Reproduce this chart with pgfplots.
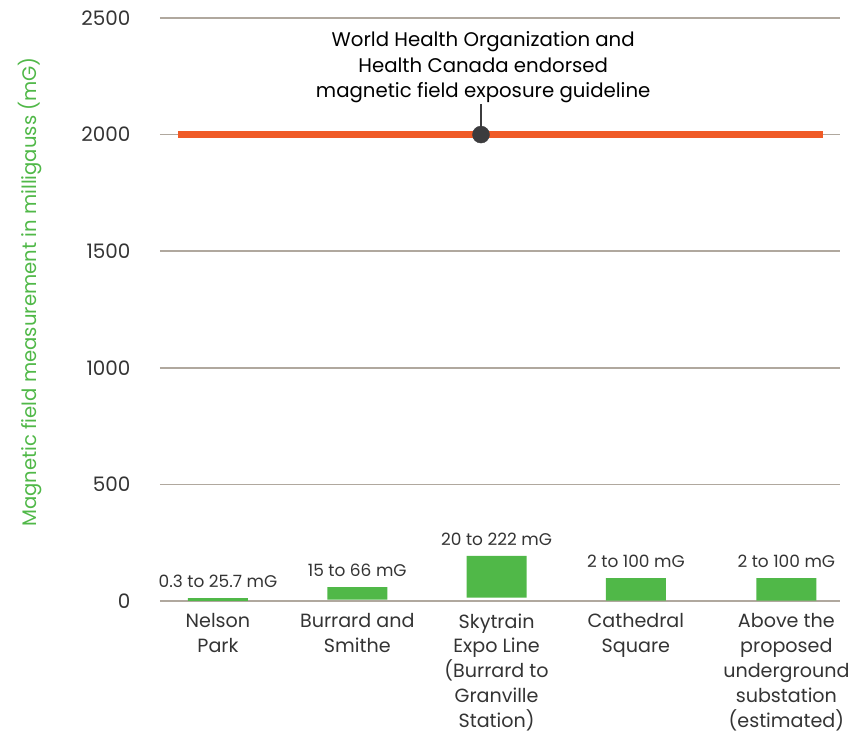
\documentclass[border=0pt]{standalone}
\usepackage{fontspec}
\setmainfont{Poppins}
\usepackage{pgfplots}
\usepackage{pgfplotstable}
\pgfplotsset{compat=1.18}
\definecolor{barGreen}{RGB}{80,184,72}
\definecolor{guideOrange}{RGB}{240,90,38}
\definecolor{gridGray}{RGB}{176,168,158}
\definecolor{txtGray}{RGB}{52,52,52}
\definecolor{dotGray}{RGB}{60,60,62}

\pgfplotstableread[col sep=comma]{
x,low,diff,top,label
0,1,11,12,0.3 to 25.7 mG
1,6,54,60,15 to 66 mG
2,14,180,194,20 to 222 mG
3,2,96,98,2 to 100 mG
4.08,2,96,98,2 to 100 mG
}\bars

\pgfplotsset{
  base/.style={
    scale only axis,
    width=680bp, height=583bp,
    at={(0,0)}, anchor=south west,
    xmin=-0.416, xmax=4.465,
    ymin=0, ymax=2500,
    axis line style={draw=none},
    major tick length=0pt,
    clip=false,
  }
}

\begin{document}
\begin{tikzpicture}
\begin{axis}[base,
  ybar stacked,
  bar width=60bp,
  ytick={0,500,1000,1500,2000,2500},
  ymajorgrids,
  grid style={draw=gridGray, line width=1.5bp},
  xtick={0,1,2,3,4.08},
  xticklabels={{Nelson\\Park},{Burrard and\\Smithe},{Skytrain\\Expo Line\\(Burrard to\\Granville\\Station)},{Cathedral\\Square},{Above the\\proposed\\underground\\substation\\(estimated)}},
  xticklabel style={align=center, font=\fontsize{19.2}{25}\selectfont, text=txtGray, anchor=north, yshift=-9bp},
  yticklabel style={font=\fontsize{20}{22}\selectfont, text=txtGray, xshift=-26bp},
  /pgf/number format/assume math mode=true,
  /pgf/number format/1000 sep={},
  ylabel={Magnetic field measurement in milligauss (mG)},
  ylabel style={at={(axis description cs:-0.191,0.53)}, anchor=center, font=\fontsize{19.7}{22}\selectfont, text=barGreen},
]
\addplot[draw=none, fill=none] table[x=x, y=low] {\bars};
\addplot[draw=none, fill=barGreen] table[x=x, y=diff] {\bars};
\end{axis}
\begin{axis}[base, hide axis]
\addplot[only marks, mark=none, nodes near coords, point meta=explicit symbolic,
  nodes near coords style={font=\fontsize{17}{20}\selectfont, text=txtGray, anchor=south, yshift=7bp}]
  table[x=x, y=top, meta=label] {\bars};
\addplot[guideOrange, line width=7.5bp, line cap=butt] coordinates {(-0.287,2000) (4.340,2000)};
\addplot[dotGray, line width=1.2bp] coordinates {(1.888,2000) (1.888,2131)};
\addplot[only marks, mark=*, mark size=8.5bp, dotGray, mark options={fill=dotGray, draw=dotGray}] coordinates {(1.888,2000)};
\node[align=center, font=\fontsize{19.8}{25.5}\selectfont, text=black] at (axis cs:1.904,2288) {World Health Organization and\\Health Canada endorsed\\magnetic field exposure guideline};
\end{axis}
\pgfresetboundingbox
\path (-160bp,-135bp) rectangle (705bp,601bp);
\end{tikzpicture}
\end{document}
